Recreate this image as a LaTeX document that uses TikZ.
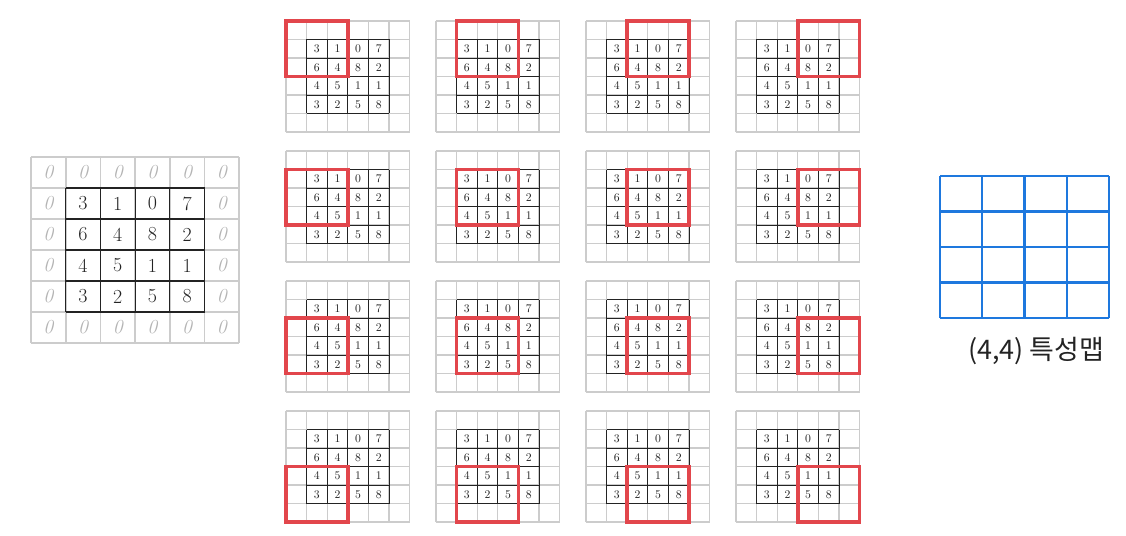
\documentclass[tikz,border=0pt]{standalone}
\usepackage{fontspec}
\newfontfamily\krfont{Noto Sans CJK KR}
\usetikzlibrary{calc}
\definecolor{ink}{RGB}{35,35,35}
\definecolor{linegray}{RGB}{204,204,204}
\definecolor{padgray}{RGB}{180,180,180}
\definecolor{winred}{RGB}{226,70,76}
\definecolor{mapblue}{RGB}{30,120,222}
\tikzset{
  padline/.style={line width=1.5pt,linegray},
  inkline/.style={line width=1pt,ink},
  smallpad/.style={line width=1pt,linegray},
  smallink/.style={line width=0.75pt,ink},
  window/.style={line width=3.2pt,winred},
  mapline/.style={line width=2pt,mapblue},
  bigdigit/.style={font=\fontsize{17}{17}\selectfont,text=ink,inner sep=0pt},
  padzero/.style={font=\fontsize{17}{17}\selectfont\itshape,text=padgray,inner sep=0pt},
  smalldigit/.style={font=\fontsize{10}{10}\selectfont,text=ink,inner sep=0pt},
  maplabel/.style={font=\krfont\fontsize{23}{23}\selectfont,text=ink,inner sep=0pt}
}
\begin{document}
\begin{tikzpicture}[x=0.03cm,y=-0.03cm]
  \useasboundingbox (0,0) rectangle (1126,536);
  % zero-padded input, 6x6
  \foreach \k in {0,...,6} {
    \draw[padline] (31+34.7*\k,157)--(31+34.7*\k,343);
    \draw[padline] (31,157+31*\k)--(239,157+31*\k);
  }
  \foreach \k in {1,...,5} {
    \draw[inkline] (31+34.7*\k,188)--(31+34.7*\k,312);
    \draw[inkline] (65.7,157+31*\k)--(204.5,157+31*\k);
  }
  \foreach \k in {0,...,5} {
    \node[padzero] (zt\k) at (31+34.7*\k+17.35,172.5) {0};
    \node[padzero] (zb\k) at (31+34.7*\k+17.35,327.5) {0};
  }
  \foreach \k in {1,...,4} {
    \node[padzero] (zl\k) at (48.35,172.5+31*\k) {0};
    \node[padzero] (zr\k) at (221.85,172.5+31*\k) {0};
  }
  \foreach \row [count=\r] in {{3,1,0,7},{6,4,8,2},{4,5,1,1},{3,2,5,8}} {
    \foreach \v [count=\c] in \row {
      \node[bigdigit] (b\r\c) at (31+34.7*\c+17.35,157+31*\r+15.5) {\v};
    }
  }
  % sliding 3x3 window, one small copy per output cell
  \foreach \i in {0,...,3} {
    \foreach \j in {0,...,3} {
      \pgfmathsetmacro{\gx}{286+150*\j}
      \pgfmathsetmacro{\gy}{21+130*\i}
      \foreach \k in {0,...,6} {
        \draw[smallpad] (\gx+20.6*\k,\gy)--(\gx+20.6*\k,\gy+111);
        \draw[smallpad] (\gx,\gy+18.5*\k)--(\gx+123.6,\gy+18.5*\k);
      }
      \foreach \k in {1,...,5} {
        \draw[smallink] (\gx+20.6*\k,\gy+18.5)--(\gx+20.6*\k,\gy+92.5);
        \draw[smallink] (\gx+20.6,\gy+18.5*\k)--(\gx+103,\gy+18.5*\k);
      }
      \foreach \row [count=\r] in {{3,1,0,7},{6,4,8,2},{4,5,1,1},{3,2,5,8}} {
        \foreach \v [count=\c] in \row {
          \node[smalldigit] (s\i\j-\r\c) at (\gx+20.6*\c+10.3,\gy+18.5*\r+9.25) {\v};
        }
      }
      \draw[window] (\gx+20.6*\j,\gy+18.5*\i) rectangle (\gx+20.6*\j+61.8,\gy+18.5*\i+55.5);
    }
  }
  % (4,4) output
  \foreach \k in {0,...,4} {
    \draw[mapline] (940+42.3*\k,176)--(940+42.3*\k,318);
    \draw[mapline] (940,176+35.5*\k)--(1109.2,176+35.5*\k);
  }
  \node[maplabel] (maplbl) at (1036,351) {(4,4)\ 특성맵};
\end{tikzpicture}
\end{document}
